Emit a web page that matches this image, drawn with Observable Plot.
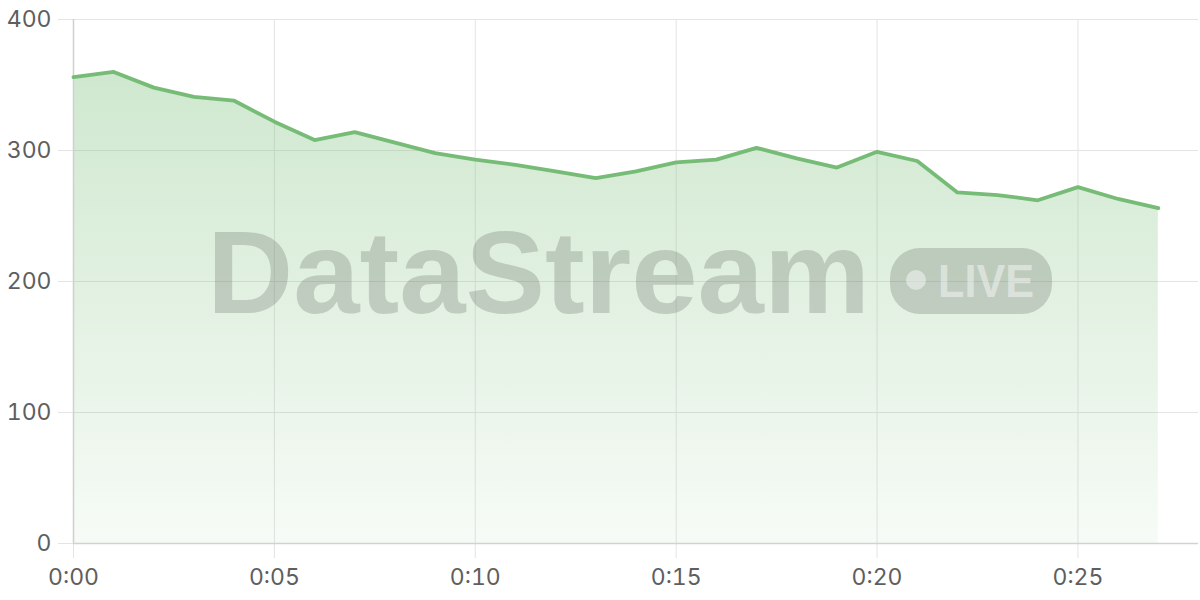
<!DOCTYPE html>
<html>
<head>
<meta charset="utf-8">
<script src="https://cdn.jsdelivr.net/npm/d3@7"></script>
<script src="https://cdn.jsdelivr.net/npm/@observablehq/plot@0.6"></script>
<style>
  html, body { margin: 0; padding: 0; background: #fff; }
  #chart { width: 1200px; height: 600px; }
</style>
</head>
<body>
<div id="chart"></div>
<script>
const minutes = [0,1,2,3,4,5,6,7,8,9,10,11,12,13,14,15,16,17,18,19,20,21,22,23,24,25,26,27];
const values  = [356,360,348,341,338,322,308,314,306,298,293,289,284,279,284,291,293,302,294,287,299,292,268,266,262,272,263,256];
const xTicks = [0,5,10,15,20,25];
const yTicks = [0,100,200,300,400];
const watermarkText = "DataStream";
const badgeText = "LIVE";

const data = minutes.map((m, i) => ({m, v: values[i]}));
const fmt = m => `0:${String(m).padStart(2, "0")}`;

const gradDefs = () => {
  const g = d3.create("svg:defs");
  const lg = g.append("linearGradient").attr("id", "areaGrad").attr("x1", 0).attr("y1", 0).attr("x2", 0).attr("y2", 1);
  lg.append("stop").attr("offset", "0%").attr("stop-color", "rgb(118,188,118)").attr("stop-opacity", 0.35);
  lg.append("stop").attr("offset", "100%").attr("stop-color", "rgb(118,188,118)").attr("stop-opacity", 0.06);
  return g.node();
};

const plot = Plot.plot({
  width: 1200,
  height: 600,
  marginLeft: 73,
  marginRight: 2,
  marginTop: 19,
  marginBottom: 57,
  style: {fontFamily: "Inter, sans-serif", fontSize: "23px", color: "#666", background: "#fff"},
  x: {domain: [0, 28], ticks: xTicks, tickFormat: fmt, tickSize: 15, tickPadding: 10, label: null},
  y: {domain: [0, 400], ticks: yTicks, tickSize: 15, tickPadding: 8, label: null},
  marks: [
    gradDefs,
    Plot.gridX(xTicks, {stroke: "#e4e4e4", strokeOpacity: 1, strokeWidth: 1}),
    Plot.gridY(yTicks, {stroke: "#e4e4e4", strokeOpacity: 1, strokeWidth: 1}),
    Plot.axisX(xTicks, {tickFormat: fmt, tickSize: 15, tickPadding: 10, stroke: "#e4e4e4", fill: "#5e5e5e", fontSize: 23, label: null}),
    Plot.axisY(yTicks, {tickSize: 15, tickPadding: 7, stroke: "#e4e4e4", fill: "#5e5e5e", fontSize: 23, label: null}),
    Plot.areaY(data, {x: "m", y: "v", fill: "url(#areaGrad)"}),
    Plot.ruleX([0], {stroke: "#d0d0d0", strokeWidth: 1.5}),
    Plot.ruleY([0], {stroke: "#d0d4d0", strokeWidth: 1.5}),
    Plot.lineY(data, {x: "m", y: "v", stroke: "rgb(118,188,118)", strokeWidth: 3.8})
  ]
});

// watermark overlay
const svg = d3.select(plot);
const wm = svg.append("g").attr("pointer-events", "none").attr("text-anchor", "start");
wm.append("text")
  .attr("x", 207).attr("y", 313)
  .attr("text-anchor", "start")
  .attr("font-family", "'Liberation Sans', Arial, sans-serif")
  .attr("font-weight", 700)
  .attr("font-size", 116)
  .attr("textLength", 663)
  .attr("lengthAdjust", "spacingAndGlyphs")
  .attr("fill", "rgb(110,118,110)")
  .attr("fill-opacity", 0.3)
  .text(watermarkText);
wm.append("rect")
  .attr("x", 890).attr("y", 248).attr("width", 162).attr("height", 66).attr("rx", 30)
  .attr("fill", "rgb(110,118,110)").attr("fill-opacity", 0.3);
wm.append("circle")
  .attr("cx", 916).attr("cy", 280).attr("r", 10)
  .attr("fill", "#fff").attr("fill-opacity", 0.45);
wm.append("text")
  .attr("x", 938).attr("y", 297)
  .attr("text-anchor", "start")
  .attr("font-family", "'Liberation Sans', Arial, sans-serif")
  .attr("font-weight", 700)
  .attr("font-size", 47)
  .attr("textLength", 96)
  .attr("lengthAdjust", "spacingAndGlyphs")
  .attr("fill", "#fff").attr("fill-opacity", 0.45)
  .text(badgeText);

document.getElementById("chart").appendChild(plot);
</script>
</body>
</html>
